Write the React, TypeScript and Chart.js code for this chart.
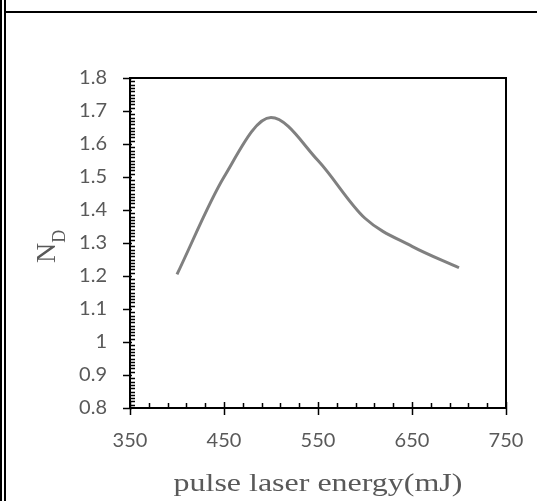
import React, { useEffect, useRef } from "react";
import { Chart, registerables } from "chart.js";

Chart.register(...registerables);

const energies = [400, 450, 500, 550, 600, 650, 700];
const ndValues = [1.205, 1.5, 1.68, 1.55, 1.375, 1.29, 1.225];
const xTickValues = [350, 450, 550, 650, 750];
const yTickValues = [0.8, 0.9, 1, 1.1, 1.2, 1.3, 1.4, 1.5, 1.6, 1.7, 1.8];
const xTitle = "pulse laser energy(mJ)";
const yTitleMain = "N";
const yTitleSub = "D";

const TEXT = "#595959";

const framePlugin = {
  id: "framePlugin",
  beforeDraw(chart: any) {
    const { ctx, width, height } = chart;
    ctx.save();
    ctx.fillStyle = "#fff";
    ctx.fillRect(0, 0, width, height);
    ctx.restore();
  },
  afterDraw(chart: any) {
    const { ctx, chartArea: ca, scales, width, height } = chart;
    const xs = scales.x;
    const ys = scales.y;
    ctx.save();
    ctx.strokeStyle = "#000";
    ctx.lineWidth = 2;
    const line = (x1: number, y1: number, x2: number, y2: number) => {
      ctx.beginPath();
      ctx.moveTo(x1, y1);
      ctx.lineTo(x2, y2);
      ctx.stroke();
    };
    // outer frame
    line(1, 0, 1, height);
    line(5, 0, 5, height);
    line(6, 12, width, 12);
    // plot box top and right
    line(ca.left, ca.top, ca.right + 1, ca.top);
    line(ca.right, ca.top, ca.right, ca.bottom);
    // y ticks
    ctx.lineWidth = 1.5;
    for (let i = 80; i <= 180; i++) {
      const py = Math.round(ys.getPixelForValue(i / 100)) + 0.5;
      if (i % 10 === 0) line(ca.left - 7, py, ca.left + 2, py);
      else line(ca.left, py, ca.left + 5, py);
    }
    // x ticks
    for (let v = 350; v <= 750; v += 20) {
      const px = Math.round(xs.getPixelForValue(v)) + 0.5;
      if ((v - 350) % 100 === 0) line(px, ca.bottom - 6, px, ca.bottom + 7);
      else line(px, ca.bottom - 5, px, ca.bottom);
    }
    // x title
    ctx.fillStyle = TEXT;
    ctx.font = "26px 'Liberation Serif', 'Times New Roman', serif";
    ctx.textBaseline = "alphabetic";
    ctx.textAlign = "center";
    ctx.save();
    const cx = (ca.left + ca.right) / 2;
    ctx.translate(cx, 491);
    ctx.scale(1.23, 1);
    ctx.fillText(xTitle, 0, 0);
    ctx.restore();
    // y title
    ctx.save();
    ctx.translate(55, 263);
    ctx.rotate(-Math.PI / 2);
    ctx.textAlign = "left";
    ctx.font = "28px 'Liberation Serif', 'Times New Roman', serif";
    ctx.fillText(yTitleMain, 0, 0);
    const w = ctx.measureText(yTitleMain).width;
    ctx.font = "18px 'Liberation Serif', 'Times New Roman', serif";
    ctx.fillText(yTitleSub, w, 10);
    ctx.restore();
    ctx.restore();
  },
};

export default function App() {
  const ref = useRef<HTMLCanvasElement | null>(null);
  useEffect(() => {
    if (!ref.current) return;
    const chart = new Chart(ref.current, {
      type: "line",
      data: {
        datasets: [
          {
            data: energies.map((e, i) => ({ x: e, y: ndValues[i] })),
            borderColor: "#808080",
            borderWidth: 3,
            pointRadius: 0,
            cubicInterpolationMode: "monotone",
            fill: false,
          },
        ],
      },
      options: {
        responsive: false,
        animation: false,
        devicePixelRatio: 1,
        layout: { padding: { left: 0, top: 78, right: 31, bottom: 0 } },
        plugins: { legend: { display: false }, tooltip: { enabled: false }, title: { display: false } },
        scales: {
          x: {
            type: "linear",
            min: 350,
            max: 750,
            afterBuildTicks: (s: any) => {
              s.ticks = xTickValues.map((v) => ({ value: v }));
            },
            afterFit: (s: any) => {
              s.height = 93;
            },
            grid: {
              display: true,
              drawOnChartArea: false,
              drawTicks: true,
              tickLength: 19,
              tickColor: "rgba(0,0,0,0)",
            },
            border: { display: true, color: "#000", width: 2 },
            ticks: {
              color: TEXT,
              font: { family: "Lato", size: 20 },
              padding: 2,
              maxRotation: 0,
              callback: (v: any) => String(v),
            },
          },
          y: {
            type: "linear",
            min: 0.8,
            max: 1.8,
            afterBuildTicks: (s: any) => {
              s.ticks = yTickValues.map((v) => ({ value: v }));
            },
            afterFit: (s: any) => {
              s.width = 130;
            },
            grid: { display: false, drawTicks: false },
            border: { display: true, color: "#000", width: 2 },
            ticks: {
              color: TEXT,
              font: { family: "Lato", size: 20 },
              padding: 23,
              callback: (v: any) => String(Math.round(Number(v) * 10) / 10),
            },
          },
        },
      },
      plugins: [framePlugin],
    });
    return () => chart.destroy();
  }, []);
  return (
    <div style={{ position: "fixed", left: 0, top: 0, width: 537, height: 501, background: "#fff" }}>
      <canvas ref={ref} width={537} height={501} style={{ display: "block" }} />
    </div>
  );
}
